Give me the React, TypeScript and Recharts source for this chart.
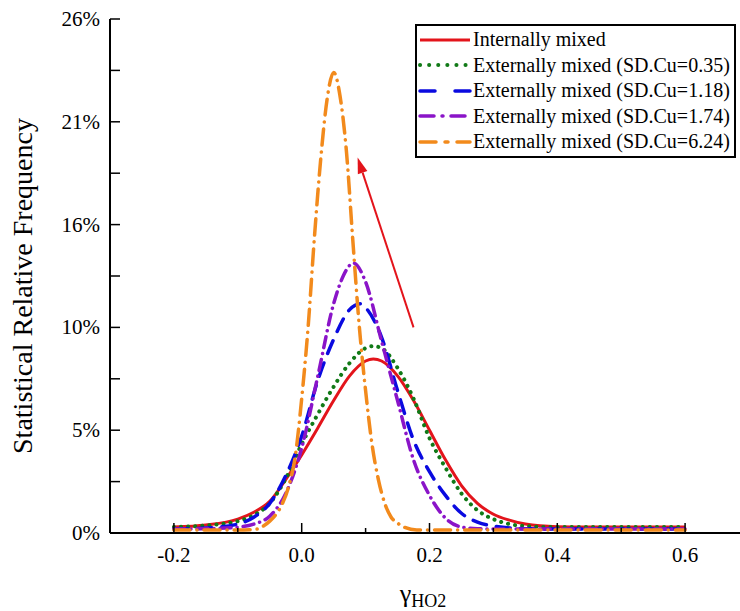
import React from 'react';
import { LineChart, Line, XAxis, YAxis, Legend, ReferenceLine } from 'recharts';

const FONT = '"Liberation Serif", "Times New Roman", Times, serif';

// axis ticks (minor ticks in between major ones)
const xTicks = [-0.2, -0.1, 0, 0.1, 0.2, 0.3, 0.4, 0.5, 0.6];
const yTicks = [0, 2.6, 5.2, 7.8, 10.4, 13, 15.6, 18.2, 20.8, 23.4, 26];

// Internally mixed
const internalX = [-0.2, -0.15, -0.1, -0.075, -0.05, -0.025, 0, 0.025, 0.05, 0.075, 0.1, 0.112, 0.125, 0.15, 0.175, 0.2, 0.225, 0.25, 0.275, 0.3, 0.325, 0.35, 0.4, 0.45, 0.5, 0.6];
const internalY = [0.3, 0.4, 0.7, 1.05, 1.6, 2.7, 3.95, 5.3, 6.7, 7.95, 8.7, 8.8, 8.7, 7.95, 6.7, 5.2, 3.7, 2.4, 1.5, 0.95, 0.65, 0.45, 0.32, 0.3, 0.3, 0.3];

// SD.Cu = 0.35
const sd035X = [-0.2, -0.15, -0.1, -0.075, -0.05, -0.025, 0, 0.025, 0.05, 0.075, 0.1, 0.112, 0.125, 0.15, 0.175, 0.2, 0.225, 0.25, 0.275, 0.3, 0.325, 0.35, 0.4, 0.45, 0.5, 0.6];
const sd035Y = [0.3, 0.38, 0.6, 0.9, 1.5, 2.75, 4.5, 6.0, 7.4, 8.6, 9.35, 9.45, 9.35, 8.35, 6.8, 4.8, 3.3, 2.0, 1.15, 0.7, 0.45, 0.35, 0.3, 0.3, 0.3, 0.3];

// SD.Cu = 1.18
const sd118X = [-0.2, -0.15, -0.1, -0.075, -0.05, -0.025, 0, 0.025, 0.05, 0.075, 0.092, 0.1, 0.125, 0.15, 0.175, 0.2, 0.225, 0.25, 0.275, 0.3, 0.35, 0.4, 0.5, 0.6];
const sd118Y = [0.2, 0.25, 0.45, 0.8, 1.5, 2.9, 4.9, 7.7, 9.8, 11.3, 11.6, 11.4, 9.9, 7.2, 4.7, 3.1, 1.9, 1.0, 0.55, 0.35, 0.22, 0.2, 0.2, 0.2];

// SD.Cu = 1.74
const sd174X = [-0.2, -0.15, -0.1, -0.075, -0.05, -0.025, 0, 0.025, 0.05, 0.065, 0.081, 0.1, 0.125, 0.15, 0.175, 0.2, 0.225, 0.25, 0.275, 0.3, 0.4, 0.5, 0.6];
const sd174Y = [0.2, 0.22, 0.3, 0.45, 0.85, 2.0, 4.3, 7.9, 11.6, 13.0, 13.65, 12.7, 9.7, 6.7, 3.7, 1.9, 0.75, 0.3, 0.22, 0.2, 0.2, 0.2, 0.2];

// SD.Cu = 6.24
const sd624X = [-0.2, -0.1, -0.07, -0.06, -0.05, -0.04, -0.03, -0.02, -0.01, 0, 0.01, 0.02, 0.03, 0.04, 0.05, 0.06, 0.07, 0.08, 0.09, 0.1, 0.11, 0.12, 0.13, 0.14, 0.15, 0.16, 0.18, 0.2, 0.4, 0.6];
const sd624Y = [0.15, 0.15, 0.2, 0.35, 0.6, 0.95, 1.5, 2.4, 3.9, 6.8, 10.4, 15.0, 19.0, 22.0, 23.3, 22.1, 19.3, 14.8, 10.5, 7.2, 4.5, 2.7, 1.5, 0.8, 0.5, 0.3, 0.15, 0.15, 0.15, 0.15];

// arrow annotation (tail -> head), data units
const arrowFrom = { x: 0.175, y: 10.4 };
const arrowTo = { x: 0.0875, y: 19.0 };

const toPoints = (xs: number[], ys: number[]) => xs.map((x, i) => ({ x, y: ys[i] }));

const SERIES = [
  { name: 'Internally mixed', data: toPoints(internalX, internalY), color: '#e3141b', width: 3, dash: undefined, cap: 'butt', legendDash: undefined },
  { name: 'Externally mixed (SD.Cu=0.35)', data: toPoints(sd035X, sd035Y), color: '#117a17', width: 4, dash: '0.1 7', cap: 'round', legendDash: '0.1 9' },
  { name: 'Externally mixed (SD.Cu=1.18)', data: toPoints(sd118X, sd118Y), color: '#0a0ae0', width: 3.5, dash: '14 10', cap: 'round', legendDash: '15 20' },
  { name: 'Externally mixed (SD.Cu=1.74)', data: toPoints(sd174X, sd174Y), color: '#8a14c8', width: 3.5, dash: '11 6 0.1 6', cap: 'round', legendDash: '14 8 1 8' },
  { name: 'Externally mixed (SD.Cu=6.24)', data: toPoints(sd624X, sd624Y), color: '#f28a1c', width: 3.5, dash: '16 7 0.1 7', cap: 'round', legendDash: '16 9 3 9' },
];

function XTick(props: any) {
  const { x, y, payload } = props;
  const major = Math.round(payload.value * 10) % 2 === 0;
  return (
    <g>
      <line x1={x} x2={x} y1={y} y2={y - (major ? 10 : 5)} stroke="#000" strokeWidth={1.5} />
      {major && (
        <text x={x} y={y + 29} textAnchor="middle" fontFamily={FONT} fontSize={21} fill="#000">
          {payload.value.toFixed(1)}
        </text>
      )}
    </g>
  );
}

function YTick(props: any) {
  const { x, y, payload } = props;
  const major = Math.round(payload.value / 2.6) % 2 === 0;
  return (
    <g>
      <line x1={x} x2={x + 10} y1={y} y2={y} stroke="#000" strokeWidth={1.5} />
      {major && (
        <text x={x - 10} y={y + 7} textAnchor="end" fontFamily={FONT} fontSize={21} fill="#000">
          {Math.round(payload.value) + '%'}
        </text>
      )}
    </g>
  );
}

function Arrow(props: any) {
  const { x1, y1, x2, y2, stroke } = props;
  const ang = Math.atan2(y2 - y1, x2 - x1);
  const len = 16;
  const half = 5;
  const bx = x2 - len * Math.cos(ang);
  const by = y2 - len * Math.sin(ang);
  const px = -Math.sin(ang) * half;
  const py = Math.cos(ang) * half;
  return (
    <g>
      <line x1={x1} y1={y1} x2={bx} y2={by} stroke={stroke} strokeWidth={2} />
      <polygon points={`${x2},${y2} ${bx + px},${by + py} ${bx - px},${by - py}`} fill={stroke} />
    </g>
  );
}

function LegendBox() {
  return (
    <div
      style={{
        border: '2px solid #000',
        background: '#fff',
        padding: '1px 4px 1px 1px',
        fontFamily: FONT,
        fontSize: 20,
        lineHeight: '25.5px',
        color: '#000',
      }}
    >
      {SERIES.map((s) => (
        <div key={s.name} style={{ display: 'flex', alignItems: 'center', whiteSpace: 'nowrap' }}>
          <svg width={54} height={10} style={{ flex: 'none' }}>
            <line
              x1={2}
              x2={52}
              y1={5}
              y2={5}
              stroke={s.color}
              strokeWidth={s.width}
              strokeDasharray={s.legendDash}
              strokeLinecap={s.cap as any}
            />
          </svg>
          <span style={{ marginLeft: 1 }}>{s.name}</span>
        </div>
      ))}
    </div>
  );
}

export default function App() {
  return (
    <div style={{ position: 'absolute', left: 0, top: 0, width: 740, height: 611, overflow: 'hidden', background: '#fff' }}>
      <LineChart width={760} height={611} margin={{ top: 19, right: 11, bottom: 8, left: 10 }}>
        <XAxis
          dataKey="x"
          type="number"
          domain={[-0.3, 0.7]}
          ticks={xTicks}
          allowDataOverflow
          height={70}
          tickSize={0}
          tickMargin={0}
          tickLine={false}
          axisLine={{ stroke: '#000', strokeWidth: 2 }}
          tick={<XTick />}
          interval={0}
          label={{
            content: (p: any) => {
              const vb = p.viewBox;
              const cx = vb.x + vb.width * 0.49;
              return (
                <text x={cx} y={vb.y + 69} fontFamily={FONT} fill="#000" textAnchor="middle">
                  <tspan fontSize={26}>γ</tspan>
                  <tspan fontSize={18} dy={5}>HO2</tspan>
                </text>
              );
            },
          }}
        />
        <XAxis xAxisId="top" orientation="top" type="number" domain={[-0.3, 0.7]} height={0} tick={false} tickLine={false} axisLine={{ stroke: '#000', strokeWidth: 2 }} />
        <YAxis
          type="number"
          domain={[0, 26]}
          ticks={yTicks}
          allowDataOverflow
          width={100}
          tickSize={0}
          tickMargin={0}
          tickLine={false}
          axisLine={{ stroke: '#000', strokeWidth: 2 }}
          tick={<YTick />}
          interval={0}
          label={{
            content: (p: any) => {
              const vb = p.viewBox;
              const cx = 22;
              const cy = vb.y + vb.height / 2 + 10;
              return (
                <text
                  x={cx}
                  y={cy}
                  transform={`rotate(-90, ${cx}, ${cy})`}
                  textAnchor="middle"
                  dominantBaseline="central"
                  fontFamily={FONT}
                  fontSize={28}
                  fill="#000"
                >
                  Statistical Relative Frequency
                </text>
              );
            },
          }}
        />
        <YAxis yAxisId="right" orientation="right" type="number" domain={[0, 26]} width={0} tick={false} tickLine={false} axisLine={{ stroke: '#000', strokeWidth: 2 }} />
        {SERIES.map((s) => (
          <Line
            key={s.name}
            data={s.data}
            dataKey="y"
            name={s.name}
            type="monotone"
            stroke={s.color}
            strokeWidth={s.width}
            strokeDasharray={s.dash}
            strokeLinecap={s.cap as any}
            dot={false}
            activeDot={false}
            isAnimationActive={false}
          />
        ))}
        <ReferenceLine
          segment={[arrowFrom, arrowTo]}
          stroke="#e3141b"
          ifOverflow="visible"
          shape={(p: any) => <Arrow {...p} />}
        />
        <Legend
          layout="horizontal"
          align="center"
          verticalAlign="middle"
          wrapperStyle={{ left: 415, top: 24, width: 'auto', right: 'auto', bottom: 'auto' }}
          content={() => <LegendBox />}
        />
      </LineChart>
    </div>
  );
}
